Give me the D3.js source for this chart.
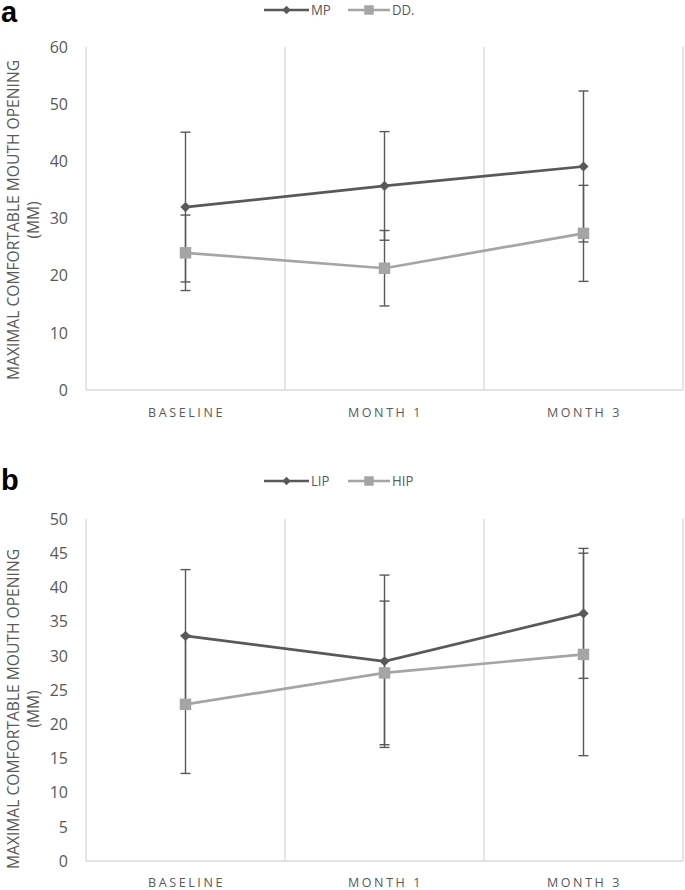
<!DOCTYPE html>
<html>
<head>
<meta charset="utf-8">
<script src="https://cdn.jsdelivr.net/npm/d3@7"></script>
<style>
  body { margin: 0; background: #fff; }
  svg { display: block; }
  text { font-family: "Open Sans", "Liberation Sans", sans-serif; }
</style>
</head>
<body>
<svg id="chart" width="685" height="890"></svg>
<script>
// ---- Data ----
const categories = ["BASELINE", "MONTH 1", "MONTH 3"];

// Panel a
const seriesA1Name = "MP";
const seriesA1Mean = [32.0, 35.7, 39.1];
const seriesA1SD   = [13.1, 9.5, 13.2];
const seriesA2Name = "DD.";
const seriesA2Mean = [24.0, 21.3, 27.4];
const seriesA2SD   = [6.6, 6.6, 8.4];
const ticksA = [0, 10, 20, 30, 40, 50, 60];

// Panel b
const seriesB1Name = "LIP";
const seriesB1Mean = [32.9, 29.2, 36.2];
const seriesB1SD   = [9.7, 12.6, 9.5];
const seriesB2Name = "HIP";
const seriesB2Mean = [22.9, 27.5, 30.2];
const seriesB2SD   = [10.1, 10.5, 14.8];
const ticksB = [0, 5, 10, 15, 20, 25, 30, 35, 40, 45, 50];

const yTitle1 = "MAXIMAL COMFORTABLE MOUTH OPENING";
const yTitle2 = "(MM)";

// ---- Drawing ----
const svg = d3.select("#chart");
const dark = "#595959", light = "#a5a5a5", grid = "#d9d9d9", txt = "#595959";

function panel(cfg) {
  const g = svg.append("g");
  const x = d3.scaleBand().domain(categories).range([86, 683]).padding(0);
  const y = d3.scaleLinear().domain([0, cfg.max]).range([cfg.bottom, cfg.top]);
  const cx = c => x(c) + x.bandwidth() / 2;

  // panel letter
  g.append("text").attr("x", 1).attr("y", cfg.letterY)
    .attr("font-weight", "bold").attr("font-size", 29).attr("fill", "#000")
    .style("font-family", "Liberation Sans, Arial, sans-serif")
    .text(cfg.letter);

  // vertical category gridlines
  const bounds = categories.map(c => x(c)).concat([x.range()[1]]);
  g.selectAll(".vg").data(bounds).enter().append("line")
    .attr("x1", d => d).attr("x2", d => d)
    .attr("y1", cfg.top).attr("y2", cfg.bottom)
    .attr("stroke", grid).attr("stroke-width", 1.3);
  // x axis line
  g.append("line").attr("x1", 86).attr("x2", 683)
    .attr("y1", cfg.bottom).attr("y2", cfg.bottom)
    .attr("stroke", grid).attr("stroke-width", 1.3);

  // y tick labels
  g.selectAll(".yt").data(cfg.ticks).enter().append("text")
    .attr("x", 68).attr("y", d => y(d)).attr("dy", "0.36em")
    .attr("text-anchor", "end").attr("font-size", 16).attr("fill", txt)
    .text(d => d);

  // x labels
  g.selectAll(".xl").data(categories).enter().append("text")
    .attr("x", d => cx(d) + 1).attr("y", cfg.bottom + cfg.xlabOff)
    .attr("text-anchor", "middle").attr("font-size", 12.5)
    .attr("letter-spacing", "2.6px").attr("fill", txt)
    .text(d => d);

  // y title
  const t = g.append("g").attr("transform", `translate(19,${cfg.titleY}) rotate(-90)`);
  t.append("text").attr("x", 0).attr("y", 0).attr("text-anchor", "middle")
    .attr("font-size", 15.5).attr("fill", txt)
    .attr("textLength", cfg.titleLen).attr("lengthAdjust", "spacingAndGlyphs")
    .text(yTitle1);
  t.append("text").attr("x", 0).attr("y", 20).attr("text-anchor", "middle")
    .attr("font-size", 15.5).attr("fill", txt).text(yTitle2);

  const series = [
    {name: cfg.s1Name, mean: cfg.s1Mean, sd: cfg.s1SD, color: dark, marker: "diamond"},
    {name: cfg.s2Name, mean: cfg.s2Mean, sd: cfg.s2SD, color: light, marker: "square"}
  ];

  // error bars
  series.forEach(s => {
    categories.forEach((c, i) => {
      const hi = s.mean[i] + s.sd[i], lo = s.mean[i] - s.sd[i];
      g.append("line").attr("x1", cx(c)).attr("x2", cx(c))
        .attr("y1", y(hi)).attr("y2", y(lo))
        .attr("stroke", dark).attr("stroke-width", 1.4);
      [hi, lo].forEach(v => {
        g.append("line").attr("x1", cx(c) - 5).attr("x2", cx(c) + 5)
          .attr("y1", y(v)).attr("y2", y(v))
          .attr("stroke", dark).attr("stroke-width", 1.4);
      });
    });
  });

  // lines
  const line = d3.line().x((d, i) => cx(categories[i])).y(d => y(d));
  series.forEach(s => {
    g.append("path").datum(s.mean).attr("d", line)
      .attr("fill", "none").attr("stroke", s.color).attr("stroke-width", 2.7);
  });

  // markers
  const sym = {
    diamond: d3.symbol().type(d3.symbolSquare).size(52),
    square: d3.symbol().type(d3.symbolSquare).size(132)
  };
  series.forEach(s => {
    categories.forEach((c, i) => {
      g.append("path").attr("d", sym[s.marker]())
        .attr("transform", `translate(${cx(c)},${y(s.mean[i])})` + (s.marker === "diamond" ? " rotate(45)" : ""))
        .attr("fill", s.color);
    });
  });

  // legend
  const ly = cfg.legendY;
  const leg = [
    {name: cfg.s1Name, color: dark, marker: "diamond", x0: 264, x1: 309, tx: 311},
    {name: cfg.s2Name, color: light, marker: "square", x0: 348, x1: 390, tx: 392}
  ];
  leg.forEach(l => {
    g.append("line").attr("x1", l.x0).attr("x2", l.x1).attr("y1", ly).attr("y2", ly)
      .attr("stroke", l.color).attr("stroke-width", 2.7);
    const m = l.marker === "diamond"
      ? d3.symbol().type(d3.symbolSquare).size(36)()
      : d3.symbol().type(d3.symbolSquare).size(90)();
    g.append("path").attr("d", m)
      .attr("transform", `translate(${(l.x0 + l.x1) / 2},${ly})` + (l.marker === "diamond" ? " rotate(45)" : ""))
      .attr("fill", l.color);
    g.append("text").attr("x", l.tx).attr("y", ly).attr("dy", "0.36em")
      .attr("font-size", 15).attr("fill", txt)
      .attr("transform", `translate(${l.tx},0) scale(0.88,1) translate(${-l.tx},0)`)
      .text(l.name);
  });
}

panel({
  letter: "a", letterY: 22, legendY: 10, xlabOff: 27,
  max: 60, top: 47, bottom: 390, ticks: ticksA, titleY: 220, titleLen: 320,
  s1Name: seriesA1Name, s1Mean: seriesA1Mean, s1SD: seriesA1SD,
  s2Name: seriesA2Name, s2Mean: seriesA2Mean, s2SD: seriesA2SD
});
panel({
  letter: "b", letterY: 490, legendY: 481, xlabOff: 26,
  max: 50, top: 519, bottom: 861, ticks: ticksB, titleY: 709, titleLen: 320,
  s1Name: seriesB1Name, s1Mean: seriesB1Mean, s1SD: seriesB1SD,
  s2Name: seriesB2Name, s2Mean: seriesB2Mean, s2SD: seriesB2SD
});
</script>
</body>
</html>
